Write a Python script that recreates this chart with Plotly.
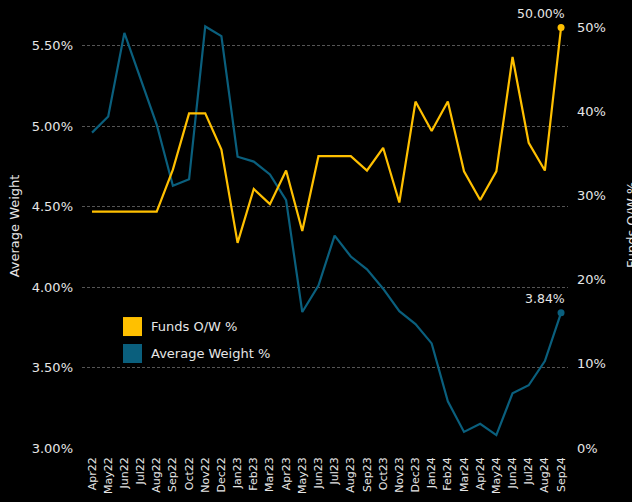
import plotly.graph_objects as go

months = ["Apr22", "May22", "Jun22", "Jul22", "Aug22", "Sep22", "Oct22", "Nov22", "Dec22",
          "Jan23", "Feb23", "Mar23", "Apr23", "May23", "Jun23", "Jul23", "Aug23", "Sep23",
          "Oct23", "Nov23", "Dec23", "Jan24", "Feb24", "Mar24", "Apr24", "May24", "Jun24",
          "Jul24", "Aug24", "Sep24"]

funds_ow = [28.1, 28.1, 28.1, 28.1, 28.1, 33.1, 39.8, 39.8, 35.5, 24.4, 30.8, 29.0, 33.0, 25.8,
            34.7, 34.7, 34.7, 33.0, 35.7, 29.2, 41.2, 37.7, 41.2, 32.9, 29.5, 32.9, 46.5, 36.3,
            33.0, 50.0]

avg_weight = [4.96, 5.06, 5.58, 5.29, 5.01, 4.63, 4.67, 5.62, 5.56, 4.81, 4.78, 4.70, 4.54, 3.845,
              4.01, 4.32, 4.19, 4.11, 3.99, 3.85, 3.77, 3.65, 3.29, 3.10, 3.15, 3.08, 3.34, 3.39,
              3.54, 3.84]

left_ticks = [3.0, 3.5, 4.0, 4.5, 5.0, 5.5]
right_ticks = [0, 10, 20, 30, 40, 50]

YELLOW = "#FFC000"
BLUE = "#0A5F7D"
TXT = "#E6E6E6"
FONT = "DejaVu Sans"

x = list(range(len(months)))

fig = go.Figure()
fig.add_trace(go.Scatter(x=x, y=avg_weight, mode="lines", line=dict(color=BLUE, width=2.2),
                         name="Average Weight %", yaxis="y", showlegend=False))
fig.add_trace(go.Scatter(x=x, y=funds_ow, mode="lines", line=dict(color=YELLOW, width=2.2),
                         name="Funds O/W %", yaxis="y2", showlegend=False))
# end markers
fig.add_trace(go.Scatter(x=[x[-1]], y=[avg_weight[-1]], mode="markers",
                         marker=dict(color=BLUE, size=7), yaxis="y", showlegend=False))
fig.add_trace(go.Scatter(x=[x[-1]], y=[funds_ow[-1]], mode="markers",
                         marker=dict(color=YELLOW, size=7), yaxis="y2", showlegend=False))

fig.add_annotation(x=x[-1], y=avg_weight[-1], yref="y", text=f"{avg_weight[-1]:.2f}%",
                   showarrow=False, xanchor="right", yanchor="bottom", xshift=6, yshift=5,
                   font=dict(family=FONT, size=12.5, color=TXT))
fig.add_annotation(x=x[-1], y=funds_ow[-1], yref="y2", text=f"{funds_ow[-1]:.2f}%",
                   showarrow=False, xanchor="right", yanchor="bottom", xshift=6, yshift=5,
                   font=dict(family=FONT, size=12.5, color=TXT))

# axis titles
fig.add_annotation(xref="paper", yref="paper", x=-0.138, y=0.52, text="Average Weight",
                   textangle=-90, showarrow=False, xanchor="center", yanchor="middle",
                   font=dict(family=FONT, size=13, color=TXT))
fig.add_annotation(xref="paper", yref="paper", x=1.131, y=0.52, text="Funds O/W %",
                   textangle=-90, showarrow=False, xanchor="center", yanchor="middle",
                   font=dict(family=FONT, size=13, color=TXT))

# custom legend
legend_items = [("Funds O/W %", YELLOW, 0.306), ("Average Weight %", BLUE, 0.243)]
for label, col, ytop in legend_items:
    fig.add_shape(type="rect", xref="paper", yref="paper", x0=0.0844, x1=0.1235,
                  y0=ytop - 0.0444, y1=ytop, fillcolor=col, line=dict(width=0))
    fig.add_annotation(xref="paper", yref="paper", x=0.1379, y=ytop - 0.0222, text=label,
                       showarrow=False, xanchor="left", yanchor="middle",
                       font=dict(family=FONT, size=13, color=TXT))

fig.update_layout(
    width=632, height=502,
    margin=dict(l=82, r=64, t=20, b=54),
    paper_bgcolor="black", plot_bgcolor="black",
    font=dict(family=FONT, color=TXT, size=12),
    xaxis=dict(range=[-0.62, 29.43], tickmode="array", tickvals=x, ticktext=months,
               tickangle=-90, showgrid=False, zeroline=False, showline=False,
               tickfont=dict(size=11, color=TXT), ticks="", ticklabelstandoff=6,
               automargin=False),
    yaxis=dict(range=[3.0, 5.66], tickmode="array", tickvals=left_ticks,
               ticktext=[f"{v:.2f}%" for v in left_ticks], showgrid=True,
               gridcolor="#555555", griddash="3px,2px", gridwidth=1, zeroline=False,
               showline=False, ticks="", ticklabelstandoff=8, automargin=False,
               tickfont=dict(size=13, color=TXT)),
    yaxis2=dict(range=[0, 50.9], overlaying="y", side="right", tickmode="array",
                tickvals=right_ticks, ticktext=[f"{v}%" for v in right_ticks],
                showgrid=False, zeroline=False, showline=False, ticks="",
                ticklabelstandoff=8, automargin=False, tickfont=dict(size=13, color=TXT)),
)

fig.write_html("out.html", config={"displayModeBar": False},
               post_script="document.body.style.margin='0';document.body.style.overflow='hidden';")
